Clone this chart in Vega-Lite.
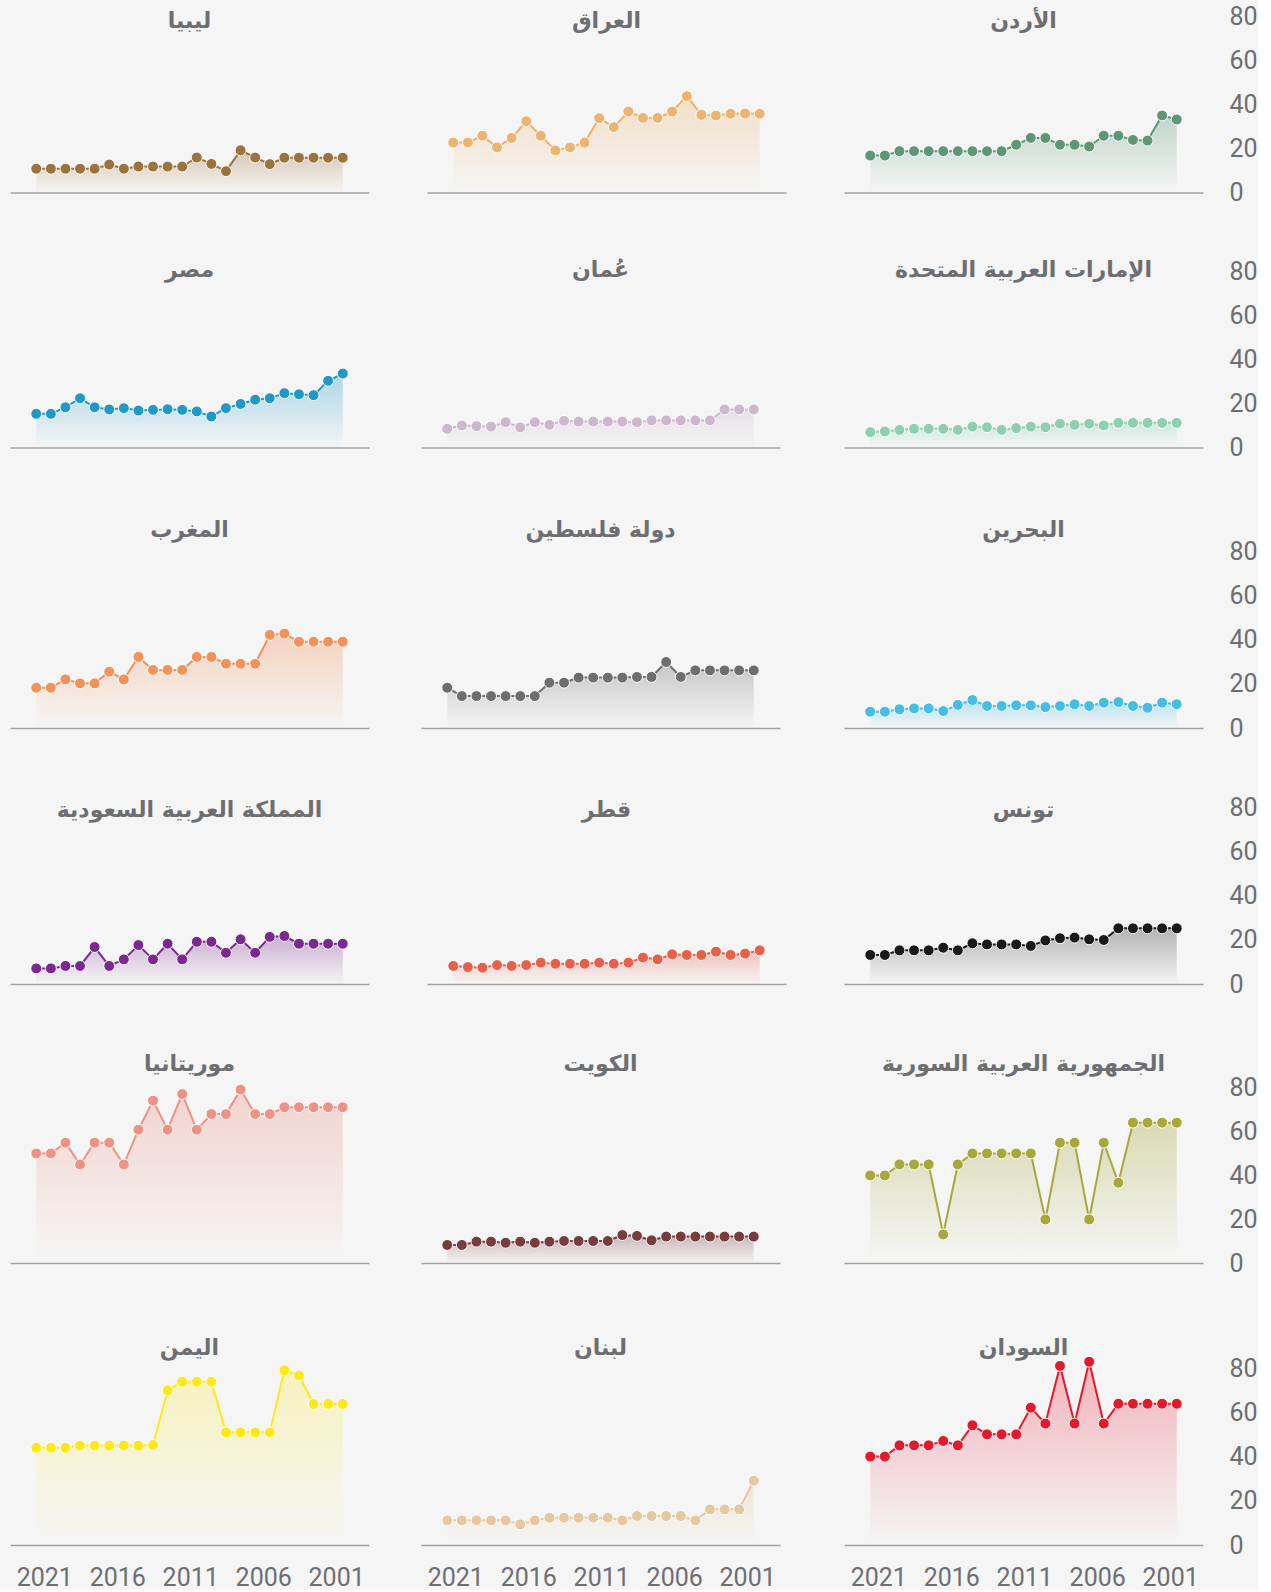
{
"$schema":"https://vega.github.io/schema/vega-lite/v6.json",
"background":"#f5f5f5",
"padding":{"left":10,"top":0,"right":0,"bottom":0},
"datasets":{
"LY":[{"y":2021,"v":10.8},{"y":2020,"v":10.8},{"y":2019,"v":10.8},{"y":2018,"v":10.8},{"y":2017,"v":10.8},{"y":2016,"v":12.7},{"y":2015,"v":10.8},{"y":2014,"v":11.8},{"y":2013,"v":11.8},{"y":2012,"v":11.8},{"y":2011,"v":11.8},{"y":2010,"v":15.9},{"y":2009,"v":13.0},{"y":2008,"v":9.7},{"y":2007,"v":19.2},{"y":2006,"v":15.9},{"y":2005,"v":12.9},{"y":2004,"v":15.8},{"y":2003,"v":15.8},{"y":2002,"v":15.8},{"y":2001,"v":15.8},{"y":2000,"v":15.8}],
"IQ":[{"y":2021,"v":22.7},{"y":2020,"v":22.7},{"y":2019,"v":25.8},{"y":2018,"v":20.5},{"y":2017,"v":24.8},{"y":2016,"v":32.4},{"y":2015,"v":25.8},{"y":2014,"v":19.1},{"y":2013,"v":20.5},{"y":2012,"v":22.7},{"y":2011,"v":33.8},{"y":2010,"v":29.7},{"y":2009,"v":36.8},{"y":2008,"v":33.9},{"y":2007,"v":33.9},{"y":2006,"v":36.8},{"y":2005,"v":43.8},{"y":2004,"v":35.3},{"y":2003,"v":35.0},{"y":2002,"v":35.8},{"y":2001,"v":35.9},{"y":2000,"v":35.8}],
"JO":[{"y":2021,"v":16.8},{"y":2020,"v":16.8},{"y":2019,"v":18.8},{"y":2018,"v":18.8},{"y":2017,"v":18.8},{"y":2016,"v":18.8},{"y":2015,"v":18.8},{"y":2014,"v":18.8},{"y":2013,"v":18.8},{"y":2012,"v":18.8},{"y":2011,"v":21.7},{"y":2010,"v":24.8},{"y":2009,"v":24.8},{"y":2008,"v":21.7},{"y":2007,"v":21.7},{"y":2006,"v":20.9},{"y":2005,"v":25.8},{"y":2004,"v":25.8},{"y":2003,"v":23.9},{"y":2002,"v":23.6},{"y":2001,"v":35.0},{"y":2000,"v":33.2}],
"EG":[{"y":2021,"v":15.3},{"y":2020,"v":15.3},{"y":2019,"v":18.3},{"y":2018,"v":22.4},{"y":2017,"v":18.3},{"y":2016,"v":17.3},{"y":2015,"v":17.9},{"y":2014,"v":16.8},{"y":2013,"v":17.1},{"y":2012,"v":17.4},{"y":2011,"v":17.1},{"y":2010,"v":16.4},{"y":2009,"v":14.1},{"y":2008,"v":17.9},{"y":2007,"v":19.8},{"y":2006,"v":21.7},{"y":2005,"v":22.4},{"y":2004,"v":24.7},{"y":2003,"v":24.2},{"y":2002,"v":23.8},{"y":2001,"v":30.3},{"y":2000,"v":33.6}],
"OM":[{"y":2021,"v":8.5},{"y":2020,"v":10.0},{"y":2019,"v":9.7},{"y":2018,"v":9.5},{"y":2017,"v":11.5},{"y":2016,"v":9.2},{"y":2015,"v":11.5},{"y":2014,"v":10.3},{"y":2013,"v":12.1},{"y":2012,"v":11.8},{"y":2011,"v":11.8},{"y":2010,"v":11.8},{"y":2009,"v":11.8},{"y":2008,"v":11.5},{"y":2007,"v":12.3},{"y":2006,"v":12.3},{"y":2005,"v":12.3},{"y":2004,"v":12.3},{"y":2003,"v":12.3},{"y":2002,"v":17.3},{"y":2001,"v":17.3},{"y":2000,"v":17.3}],
"AE":[{"y":2021,"v":7.0},{"y":2020,"v":7.3},{"y":2019,"v":8.0},{"y":2018,"v":8.5},{"y":2017,"v":8.5},{"y":2016,"v":8.5},{"y":2015,"v":8.0},{"y":2014,"v":9.5},{"y":2013,"v":9.2},{"y":2012,"v":8.0},{"y":2011,"v":8.8},{"y":2010,"v":9.5},{"y":2009,"v":9.2},{"y":2008,"v":10.8},{"y":2007,"v":10.3},{"y":2006,"v":10.8},{"y":2005,"v":10.0},{"y":2004,"v":11.2},{"y":2003,"v":11.2},{"y":2002,"v":11.2},{"y":2001,"v":11.2},{"y":2000,"v":11.2}],
"MA":[{"y":2021,"v":18.3},{"y":2020,"v":18.3},{"y":2019,"v":22.1},{"y":2018,"v":20.3},{"y":2017,"v":20.3},{"y":2016,"v":25.6},{"y":2015,"v":22.1},{"y":2014,"v":32.3},{"y":2013,"v":26.4},{"y":2012,"v":26.4},{"y":2011,"v":26.4},{"y":2010,"v":32.3},{"y":2009,"v":32.3},{"y":2008,"v":29.2},{"y":2007,"v":29.2},{"y":2006,"v":29.2},{"y":2005,"v":42.3},{"y":2004,"v":42.9},{"y":2003,"v":39.2},{"y":2002,"v":39.2},{"y":2001,"v":39.2},{"y":2000,"v":39.2}],
"PS":[{"y":2021,"v":18.3},{"y":2020,"v":14.5},{"y":2019,"v":14.5},{"y":2018,"v":14.5},{"y":2017,"v":14.5},{"y":2016,"v":14.5},{"y":2015,"v":14.5},{"y":2014,"v":20.6},{"y":2013,"v":20.6},{"y":2012,"v":22.9},{"y":2011,"v":22.9},{"y":2010,"v":22.9},{"y":2009,"v":22.9},{"y":2008,"v":23.2},{"y":2007,"v":23.2},{"y":2006,"v":30.0},{"y":2005,"v":23.2},{"y":2004,"v":26.2},{"y":2003,"v":26.2},{"y":2002,"v":26.2},{"y":2001,"v":26.2},{"y":2000,"v":26.2}],
"BH":[{"y":2021,"v":7.4},{"y":2020,"v":7.4},{"y":2019,"v":8.5},{"y":2018,"v":8.9},{"y":2017,"v":8.9},{"y":2016,"v":7.7},{"y":2015,"v":10.5},{"y":2014,"v":12.7},{"y":2013,"v":10.0},{"y":2012,"v":10.0},{"y":2011,"v":10.3},{"y":2010,"v":10.3},{"y":2009,"v":9.5},{"y":2008,"v":10.0},{"y":2007,"v":10.8},{"y":2006,"v":10.0},{"y":2005,"v":11.5},{"y":2004,"v":11.8},{"y":2003,"v":10.0},{"y":2002,"v":9.2},{"y":2001,"v":11.5},{"y":2000,"v":10.8}],
"SA":[{"y":2021,"v":7.1},{"y":2020,"v":7.1},{"y":2019,"v":8.2},{"y":2018,"v":8.2},{"y":2017,"v":16.8},{"y":2016,"v":8.2},{"y":2015,"v":11.2},{"y":2014,"v":17.7},{"y":2013,"v":11.2},{"y":2012,"v":18.3},{"y":2011,"v":11.2},{"y":2010,"v":19.2},{"y":2009,"v":19.2},{"y":2008,"v":14.2},{"y":2007,"v":20.3},{"y":2006,"v":14.2},{"y":2005,"v":21.4},{"y":2004,"v":21.8},{"y":2003,"v":18.3},{"y":2002,"v":18.3},{"y":2001,"v":18.3},{"y":2000,"v":18.3}],
"QA":[{"y":2021,"v":8.2},{"y":2020,"v":7.7},{"y":2019,"v":7.4},{"y":2018,"v":8.6},{"y":2017,"v":8.2},{"y":2016,"v":8.6},{"y":2015,"v":9.7},{"y":2014,"v":9.2},{"y":2013,"v":9.2},{"y":2012,"v":9.2},{"y":2011,"v":9.7},{"y":2010,"v":9.2},{"y":2009,"v":9.7},{"y":2008,"v":12.0},{"y":2007,"v":11.2},{"y":2006,"v":13.5},{"y":2005,"v":13.2},{"y":2004,"v":13.2},{"y":2003,"v":14.7},{"y":2002,"v":13.2},{"y":2001,"v":13.8},{"y":2000,"v":15.3}],
"TN":[{"y":2021,"v":13.2},{"y":2020,"v":13.2},{"y":2019,"v":15.3},{"y":2018,"v":15.3},{"y":2017,"v":15.3},{"y":2016,"v":16.5},{"y":2015,"v":15.3},{"y":2014,"v":18.5},{"y":2013,"v":18.0},{"y":2012,"v":18.0},{"y":2011,"v":18.0},{"y":2010,"v":17.3},{"y":2009,"v":19.8},{"y":2008,"v":20.8},{"y":2007,"v":21.1},{"y":2006,"v":20.3},{"y":2005,"v":20.0},{"y":2004,"v":25.3},{"y":2003,"v":25.3},{"y":2002,"v":25.3},{"y":2001,"v":25.3},{"y":2000,"v":25.3}],
"MR":[{"y":2021,"v":49.8},{"y":2020,"v":49.8},{"y":2019,"v":54.7},{"y":2018,"v":44.8},{"y":2017,"v":54.7},{"y":2016,"v":54.7},{"y":2015,"v":44.8},{"y":2014,"v":60.6},{"y":2013,"v":73.8},{"y":2012,"v":60.6},{"y":2011,"v":76.8},{"y":2010,"v":60.6},{"y":2009,"v":67.7},{"y":2008,"v":67.7},{"y":2007,"v":78.8},{"y":2006,"v":67.7},{"y":2005,"v":67.7},{"y":2004,"v":70.8},{"y":2003,"v":70.8},{"y":2002,"v":70.8},{"y":2001,"v":70.8},{"y":2000,"v":70.8}],
"KW":[{"y":2021,"v":8.2},{"y":2020,"v":8.2},{"y":2019,"v":9.7},{"y":2018,"v":9.7},{"y":2017,"v":9.2},{"y":2016,"v":9.7},{"y":2015,"v":9.2},{"y":2014,"v":9.7},{"y":2013,"v":10.0},{"y":2012,"v":10.0},{"y":2011,"v":10.0},{"y":2010,"v":10.0},{"y":2009,"v":12.7},{"y":2008,"v":12.3},{"y":2007,"v":10.3},{"y":2006,"v":12.0},{"y":2005,"v":12.0},{"y":2004,"v":12.0},{"y":2003,"v":12.0},{"y":2002,"v":12.0},{"y":2001,"v":12.0},{"y":2000,"v":12.0}],
"SY":[{"y":2021,"v":39.8},{"y":2020,"v":39.8},{"y":2019,"v":44.8},{"y":2018,"v":44.8},{"y":2017,"v":44.8},{"y":2016,"v":13.0},{"y":2015,"v":44.8},{"y":2014,"v":49.8},{"y":2013,"v":49.8},{"y":2012,"v":49.8},{"y":2011,"v":49.8},{"y":2010,"v":49.8},{"y":2009,"v":19.8},{"y":2008,"v":54.7},{"y":2007,"v":54.7},{"y":2006,"v":19.8},{"y":2005,"v":54.7},{"y":2004,"v":36.5},{"y":2003,"v":63.8},{"y":2002,"v":63.8},{"y":2001,"v":63.8},{"y":2000,"v":63.8}],
"YE":[{"y":2021,"v":44.2},{"y":2020,"v":44.2},{"y":2019,"v":44.2},{"y":2018,"v":45.2},{"y":2017,"v":45.2},{"y":2016,"v":45.2},{"y":2015,"v":45.2},{"y":2014,"v":45.2},{"y":2013,"v":45.5},{"y":2012,"v":70.3},{"y":2011,"v":74.2},{"y":2010,"v":74.2},{"y":2009,"v":74.2},{"y":2008,"v":51.2},{"y":2007,"v":51.2},{"y":2006,"v":51.2},{"y":2005,"v":51.2},{"y":2004,"v":79.4},{"y":2003,"v":77.1},{"y":2002,"v":64.1},{"y":2001,"v":64.1},{"y":2000,"v":64.1}],
"LB":[{"y":2021,"v":11.2},{"y":2020,"v":11.2},{"y":2019,"v":11.2},{"y":2018,"v":11.2},{"y":2017,"v":11.2},{"y":2016,"v":9.4},{"y":2015,"v":11.2},{"y":2014,"v":12.4},{"y":2013,"v":12.4},{"y":2012,"v":12.4},{"y":2011,"v":12.4},{"y":2010,"v":12.4},{"y":2009,"v":11.2},{"y":2008,"v":13.2},{"y":2007,"v":13.2},{"y":2006,"v":13.2},{"y":2005,"v":13.2},{"y":2004,"v":11.2},{"y":2003,"v":16.2},{"y":2002,"v":16.2},{"y":2001,"v":16.2},{"y":2000,"v":29.2}],
"SD":[{"y":2021,"v":40.2},{"y":2020,"v":40.2},{"y":2019,"v":45.3},{"y":2018,"v":45.3},{"y":2017,"v":45.3},{"y":2016,"v":47.3},{"y":2015,"v":45.3},{"y":2014,"v":54.4},{"y":2013,"v":50.3},{"y":2012,"v":50.3},{"y":2011,"v":50.3},{"y":2010,"v":62.4},{"y":2009,"v":55.2},{"y":2008,"v":81.4},{"y":2007,"v":55.2},{"y":2006,"v":83.3},{"y":2005,"v":55.2},{"y":2004,"v":64.2},{"y":2003,"v":64.2},{"y":2002,"v":64.2},{"y":2001,"v":64.2},{"y":2000,"v":64.2}]
},
"spacing":7,
"vconcat":[
{"hconcat":[
{"title":{"text":"ليبيا","dy":28.6},"width":359,"height":192.5,"data":{"name":"LY"},
"encoding":{"x":{"field":"y","type":"quantitative","scale":{"domain":[1998.2,2022.8],"reverse":true,"nice":false,"zero":false},"axis":{"title":null,"labels":false}},"y":{"field":"v","type":"quantitative","scale":{"domain":[0,87.5],"nice":false},"axis":null}},
"layer":[{"mark":{"type":"area","fill":{"gradient":"linear","x1":0,"y1":0,"x2":0,"y2":1,"stops":[{"offset":0,"color":"rgba(155,115,61,0.35)"},{"offset":1,"color":"rgba(155,115,61,0)"}]}}},{"mark":{"type":"line","color":"#9b733d","strokeWidth":2}},{"mark":{"type":"point","filled":true,"fill":"#9b733d","stroke":"#ffffff","strokeWidth":1,"size":120,"opacity":1}}]},
{"title":{"text":"العراق","dy":28.6},"width":359,"height":192.5,"data":{"name":"IQ"},
"encoding":{"x":{"field":"y","type":"quantitative","scale":{"domain":[1998.2,2022.8],"reverse":true,"nice":false,"zero":false},"axis":{"title":null,"labels":false}},"y":{"field":"v","type":"quantitative","scale":{"domain":[0,87.5],"nice":false},"axis":null}},
"layer":[{"mark":{"type":"area","fill":{"gradient":"linear","x1":0,"y1":0,"x2":0,"y2":1,"stops":[{"offset":0,"color":"rgba(236,180,112,0.35)"},{"offset":1,"color":"rgba(236,180,112,0)"}]}}},{"mark":{"type":"line","color":"#ecb470","strokeWidth":2}},{"mark":{"type":"point","filled":true,"fill":"#ecb470","stroke":"#ffffff","strokeWidth":1,"size":120,"opacity":1}}]},
{"title":{"text":"الأردن","dy":28.6},"width":359,"height":192.5,"data":{"name":"JO"},
"encoding":{"x":{"field":"y","type":"quantitative","scale":{"domain":[1998.2,2022.8],"reverse":true,"nice":false,"zero":false},"axis":{"title":null,"labels":false}},"y":{"field":"v","type":"quantitative","scale":{"domain":[0,87.5],"nice":false},"axis":{"title":null,"orient":"right","values":[0,20,40,60,80]}}},
"layer":[{"mark":{"type":"area","fill":{"gradient":"linear","x1":0,"y1":0,"x2":0,"y2":1,"stops":[{"offset":0,"color":"rgba(94,150,118,0.35)"},{"offset":1,"color":"rgba(94,150,118,0)"}]}}},{"mark":{"type":"line","color":"#5e9676","strokeWidth":2}},{"mark":{"type":"point","filled":true,"fill":"#5e9676","stroke":"#ffffff","strokeWidth":1,"size":120,"opacity":1}}]}
],"spacing":58,"bounds":"flush"},
{"hconcat":[{"hconcat":[
{"title":{"text":"مصر","dy":65.3},"width":359,"height":234.5,"data":{"name":"EG"},
"encoding":{"x":{"field":"y","type":"quantitative","scale":{"domain":[1998.2,2022.8],"reverse":true,"nice":false,"zero":false},"axis":{"title":null,"labels":false}},"y":{"field":"v","type":"quantitative","scale":{"domain":[0,106.59],"nice":false},"axis":null}},
"layer":[{"mark":{"type":"area","fill":{"gradient":"linear","x1":0,"y1":0,"x2":0,"y2":1,"stops":[{"offset":0,"color":"rgba(33,153,198,0.35)"},{"offset":1,"color":"rgba(33,153,198,0)"}]}}},{"mark":{"type":"line","color":"#2199c6","strokeWidth":2}},{"mark":{"type":"point","filled":true,"fill":"#2199c6","stroke":"#ffffff","strokeWidth":1,"size":120,"opacity":1}}]},
{"title":{"text":"عُمان","dy":65.3},"width":359,"height":234.5,"data":{"name":"OM"},
"encoding":{"x":{"field":"y","type":"quantitative","scale":{"domain":[1998.2,2022.8],"reverse":true,"nice":false,"zero":false},"axis":{"title":null,"labels":false}},"y":{"field":"v","type":"quantitative","scale":{"domain":[0,106.59],"nice":false},"axis":null}},
"layer":[{"mark":{"type":"area","fill":{"gradient":"linear","x1":0,"y1":0,"x2":0,"y2":1,"stops":[{"offset":0,"color":"rgba(203,184,203,0.35)"},{"offset":1,"color":"rgba(203,184,203,0)"}]}}},{"mark":{"type":"line","color":"#cbb8cb","strokeWidth":2}},{"mark":{"type":"point","filled":true,"fill":"#cbb8cb","stroke":"#ffffff","strokeWidth":1,"size":120,"opacity":1}}]}
],"spacing":52,"bounds":"flush"},
{"title":{"text":"الإمارات العربية المتحدة","dy":65.3},"width":359,"height":234.5,"data":{"name":"AE"},
"encoding":{"x":{"field":"y","type":"quantitative","scale":{"domain":[1998.2,2022.8],"reverse":true,"nice":false,"zero":false},"axis":{"title":null,"labels":false}},"y":{"field":"v","type":"quantitative","scale":{"domain":[0,106.59],"nice":false},"axis":{"title":null,"orient":"right","values":[0,20,40,60,80]}}},
"layer":[{"mark":{"type":"area","fill":{"gradient":"linear","x1":0,"y1":0,"x2":0,"y2":1,"stops":[{"offset":0,"color":"rgba(141,207,176,0.35)"},{"offset":1,"color":"rgba(141,207,176,0)"}]}}},{"mark":{"type":"line","color":"#8dcfb0","strokeWidth":2}},{"mark":{"type":"point","filled":true,"fill":"#8dcfb0","stroke":"#ffffff","strokeWidth":1,"size":120,"opacity":1}}]}
],"spacing":64},
{"hconcat":[{"hconcat":[
{"title":{"text":"المغرب","dy":70.3},"width":359,"height":260,"data":{"name":"MA"},
"encoding":{"x":{"field":"y","type":"quantitative","scale":{"domain":[1998.2,2022.8],"reverse":true,"nice":false,"zero":false},"axis":{"title":null,"labels":false}},"y":{"field":"v","type":"quantitative","scale":{"domain":[0,118.18],"nice":false},"axis":null}},
"layer":[{"mark":{"type":"area","fill":{"gradient":"linear","x1":0,"y1":0,"x2":0,"y2":1,"stops":[{"offset":0,"color":"rgba(240,146,90,0.35)"},{"offset":1,"color":"rgba(240,146,90,0)"}]}}},{"mark":{"type":"line","color":"#f0925a","strokeWidth":2}},{"mark":{"type":"point","filled":true,"fill":"#f0925a","stroke":"#ffffff","strokeWidth":1,"size":120,"opacity":1}}]},
{"title":{"text":"دولة فلسطين","dy":70.3},"width":359,"height":260,"data":{"name":"PS"},
"encoding":{"x":{"field":"y","type":"quantitative","scale":{"domain":[1998.2,2022.8],"reverse":true,"nice":false,"zero":false},"axis":{"title":null,"labels":false}},"y":{"field":"v","type":"quantitative","scale":{"domain":[0,118.18],"nice":false},"axis":null}},
"layer":[{"mark":{"type":"area","fill":{"gradient":"linear","x1":0,"y1":0,"x2":0,"y2":1,"stops":[{"offset":0,"color":"rgba(110,110,112,0.35)"},{"offset":1,"color":"rgba(110,110,112,0)"}]}}},{"mark":{"type":"line","color":"#6e6e70","strokeWidth":2}},{"mark":{"type":"point","filled":true,"fill":"#6e6e70","stroke":"#ffffff","strokeWidth":1,"size":120,"opacity":1}}]}
],"spacing":52,"bounds":"flush"},
{"title":{"text":"البحرين","dy":70.3},"width":359,"height":260,"data":{"name":"BH"},
"encoding":{"x":{"field":"y","type":"quantitative","scale":{"domain":[1998.2,2022.8],"reverse":true,"nice":false,"zero":false},"axis":{"title":null,"labels":false}},"y":{"field":"v","type":"quantitative","scale":{"domain":[0,118.18],"nice":false},"axis":{"title":null,"orient":"right","values":[0,20,40,60,80]}}},
"layer":[{"mark":{"type":"area","fill":{"gradient":"linear","x1":0,"y1":0,"x2":0,"y2":1,"stops":[{"offset":0,"color":"rgba(71,189,228,0.35)"},{"offset":1,"color":"rgba(71,189,228,0)"}]}}},{"mark":{"type":"line","color":"#47bde4","strokeWidth":2}},{"mark":{"type":"point","filled":true,"fill":"#47bde4","stroke":"#ffffff","strokeWidth":1,"size":120,"opacity":1}}]}
],"spacing":64},
{"hconcat":[
{"title":{"text":"المملكة العربية السعودية","dy":70.3},"width":359,"height":236,"data":{"name":"SA"},
"encoding":{"x":{"field":"y","type":"quantitative","scale":{"domain":[1998.2,2022.8],"reverse":true,"nice":false,"zero":false},"axis":{"title":null,"labels":false}},"y":{"field":"v","type":"quantitative","scale":{"domain":[0,107.27],"nice":false},"axis":null}},
"layer":[{"mark":{"type":"area","fill":{"gradient":"linear","x1":0,"y1":0,"x2":0,"y2":1,"stops":[{"offset":0,"color":"rgba(122,42,142,0.35)"},{"offset":1,"color":"rgba(122,42,142,0)"}]}}},{"mark":{"type":"line","color":"#7a2a8e","strokeWidth":2}},{"mark":{"type":"point","filled":true,"fill":"#7a2a8e","stroke":"#ffffff","strokeWidth":1,"size":120,"opacity":1}}]},
{"title":{"text":"قطر","dy":70.3},"width":359,"height":236,"data":{"name":"QA"},
"encoding":{"x":{"field":"y","type":"quantitative","scale":{"domain":[1998.2,2022.8],"reverse":true,"nice":false,"zero":false},"axis":{"title":null,"labels":false}},"y":{"field":"v","type":"quantitative","scale":{"domain":[0,107.27],"nice":false},"axis":null}},
"layer":[{"mark":{"type":"area","fill":{"gradient":"linear","x1":0,"y1":0,"x2":0,"y2":1,"stops":[{"offset":0,"color":"rgba(232,96,74,0.35)"},{"offset":1,"color":"rgba(232,96,74,0)"}]}}},{"mark":{"type":"line","color":"#e8604a","strokeWidth":2}},{"mark":{"type":"point","filled":true,"fill":"#e8604a","stroke":"#ffffff","strokeWidth":1,"size":120,"opacity":1}}]},
{"title":{"text":"تونس","dy":70.3},"width":359,"height":236,"data":{"name":"TN"},
"encoding":{"x":{"field":"y","type":"quantitative","scale":{"domain":[1998.2,2022.8],"reverse":true,"nice":false,"zero":false},"axis":{"title":null,"labels":false}},"y":{"field":"v","type":"quantitative","scale":{"domain":[0,107.27],"nice":false},"axis":{"title":null,"orient":"right","values":[0,20,40,60,80]}}},
"layer":[{"mark":{"type":"area","fill":{"gradient":"linear","x1":0,"y1":0,"x2":0,"y2":1,"stops":[{"offset":0,"color":"rgba(26,26,26,0.3)"},{"offset":1,"color":"rgba(26,26,26,0)"}]}}},{"mark":{"type":"line","color":"#1a1a1a","strokeWidth":2}},{"mark":{"type":"point","filled":true,"fill":"#1a1a1a","stroke":"#ffffff","strokeWidth":1,"size":120,"opacity":1}}]}
],"spacing":58,"bounds":"flush"},
{"hconcat":[{"hconcat":[
{"title":{"text":"موريتانيا","dy":68.3},"width":359,"height":259,"data":{"name":"MR"},
"encoding":{"x":{"field":"y","type":"quantitative","scale":{"domain":[1998.2,2022.8],"reverse":true,"nice":false,"zero":false},"axis":{"title":null,"labels":false}},"y":{"field":"v","type":"quantitative","scale":{"domain":[0,117.73],"nice":false},"axis":null}},
"layer":[{"mark":{"type":"area","fill":{"gradient":"linear","x1":0,"y1":0,"x2":0,"y2":1,"stops":[{"offset":0,"color":"rgba(236,147,133,0.35)"},{"offset":1,"color":"rgba(236,147,133,0)"}]}}},{"mark":{"type":"line","color":"#ec9385","strokeWidth":2}},{"mark":{"type":"point","filled":true,"fill":"#ec9385","stroke":"#ffffff","strokeWidth":1,"size":120,"opacity":1}}]},
{"title":{"text":"الكويت","dy":68.3},"width":359,"height":259,"data":{"name":"KW"},
"encoding":{"x":{"field":"y","type":"quantitative","scale":{"domain":[1998.2,2022.8],"reverse":true,"nice":false,"zero":false},"axis":{"title":null,"labels":false}},"y":{"field":"v","type":"quantitative","scale":{"domain":[0,117.73],"nice":false},"axis":null}},
"layer":[{"mark":{"type":"area","fill":{"gradient":"linear","x1":0,"y1":0,"x2":0,"y2":1,"stops":[{"offset":0,"color":"rgba(119,60,60,0.35)"},{"offset":1,"color":"rgba(119,60,60,0)"}]}}},{"mark":{"type":"line","color":"#773c3c","strokeWidth":2}},{"mark":{"type":"point","filled":true,"fill":"#773c3c","stroke":"#ffffff","strokeWidth":1,"size":120,"opacity":1}}]}
],"spacing":52,"bounds":"flush"},
{"title":{"text":"الجمهورية العربية السورية","dy":68.3},"width":359,"height":259,"data":{"name":"SY"},
"encoding":{"x":{"field":"y","type":"quantitative","scale":{"domain":[1998.2,2022.8],"reverse":true,"nice":false,"zero":false},"axis":{"title":null,"labels":false}},"y":{"field":"v","type":"quantitative","scale":{"domain":[0,117.73],"nice":false},"axis":{"title":null,"orient":"right","values":[0,20,40,60,80]}}},
"layer":[{"mark":{"type":"area","fill":{"gradient":"linear","x1":0,"y1":0,"x2":0,"y2":1,"stops":[{"offset":0,"color":"rgba(167,168,59,0.35)"},{"offset":1,"color":"rgba(167,168,59,0)"}]}}},{"mark":{"type":"line","color":"#a7a83b","strokeWidth":2}},{"mark":{"type":"point","filled":true,"fill":"#a7a83b","stroke":"#ffffff","strokeWidth":1,"size":120,"opacity":1}}]}
],"spacing":64},
{"hconcat":[{"hconcat":[
{"title":{"text":"اليمن","dy":73.3},"width":359,"height":262,"data":{"name":"YE"},
"encoding":{"x":{"field":"y","type":"quantitative","scale":{"domain":[1998.2,2022.8],"reverse":true,"nice":false,"zero":false},"axis":{"title":null,"values":[2021,2016,2011,2006,2001],"format":"d"}},"y":{"field":"v","type":"quantitative","scale":{"domain":[0,119.09],"nice":false},"axis":null}},
"layer":[{"mark":{"type":"area","fill":{"gradient":"linear","x1":0,"y1":0,"x2":0,"y2":1,"stops":[{"offset":0,"color":"rgba(253,233,26,0.25)"},{"offset":1,"color":"rgba(253,233,26,0)"}]}}},{"mark":{"type":"line","color":"#fde91a","strokeWidth":2}},{"mark":{"type":"point","filled":true,"fill":"#fde91a","stroke":"#ffffff","strokeWidth":1,"size":120,"opacity":1}}]},
{"title":{"text":"لبنان","dy":73.3},"width":359,"height":262,"data":{"name":"LB"},
"encoding":{"x":{"field":"y","type":"quantitative","scale":{"domain":[1998.2,2022.8],"reverse":true,"nice":false,"zero":false},"axis":{"title":null,"values":[2021,2016,2011,2006,2001],"format":"d"}},"y":{"field":"v","type":"quantitative","scale":{"domain":[0,119.09],"nice":false},"axis":null}},
"layer":[{"mark":{"type":"area","fill":{"gradient":"linear","x1":0,"y1":0,"x2":0,"y2":1,"stops":[{"offset":0,"color":"rgba(230,200,160,0.35)"},{"offset":1,"color":"rgba(230,200,160,0)"}]}}},{"mark":{"type":"line","color":"#e6c8a0","strokeWidth":2}},{"mark":{"type":"point","filled":true,"fill":"#e6c8a0","stroke":"#ffffff","strokeWidth":1,"size":120,"opacity":1}}]}
],"spacing":52,"bounds":"flush"},
{"title":{"text":"السودان","dy":73.3},"width":359,"height":262,"data":{"name":"SD"},
"encoding":{"x":{"field":"y","type":"quantitative","scale":{"domain":[1998.2,2022.8],"reverse":true,"nice":false,"zero":false},"axis":{"title":null,"values":[2021,2016,2011,2006,2001],"format":"d"}},"y":{"field":"v","type":"quantitative","scale":{"domain":[0,119.09],"nice":false},"axis":{"title":null,"orient":"right","values":[0,20,40,60,80]}}},
"layer":[{"mark":{"type":"area","fill":{"gradient":"linear","x1":0,"y1":0,"x2":0,"y2":1,"stops":[{"offset":0,"color":"rgba(229,25,45,0.3)"},{"offset":1,"color":"rgba(229,25,45,0)"}]}}},{"mark":{"type":"line","color":"#e5192d","strokeWidth":2}},{"mark":{"type":"point","filled":true,"fill":"#e5192d","stroke":"#ffffff","strokeWidth":1,"size":120,"opacity":1}}]}
],"spacing":64}
],
"config":{
"view":{"stroke":null},
"axis":{"grid":false,"ticks":false,"labelColor":"#6d6e71","labelFont":"Roboto"},
"axisX":{"domainColor":"#a3a3a3","domainWidth":1.5,"labelFontSize":25,"labelPadding":20,"labelOffset":8},
"axisY":{"domain":false,"labelFontSize":25,"labelPadding":26},
"title":{"font":"DejaVu Sans","fontSize":22,"fontWeight":"bold","color":"#6d6e71","anchor":"middle","offset":-4,"frame":"group","baseline":"middle"}
}
}
